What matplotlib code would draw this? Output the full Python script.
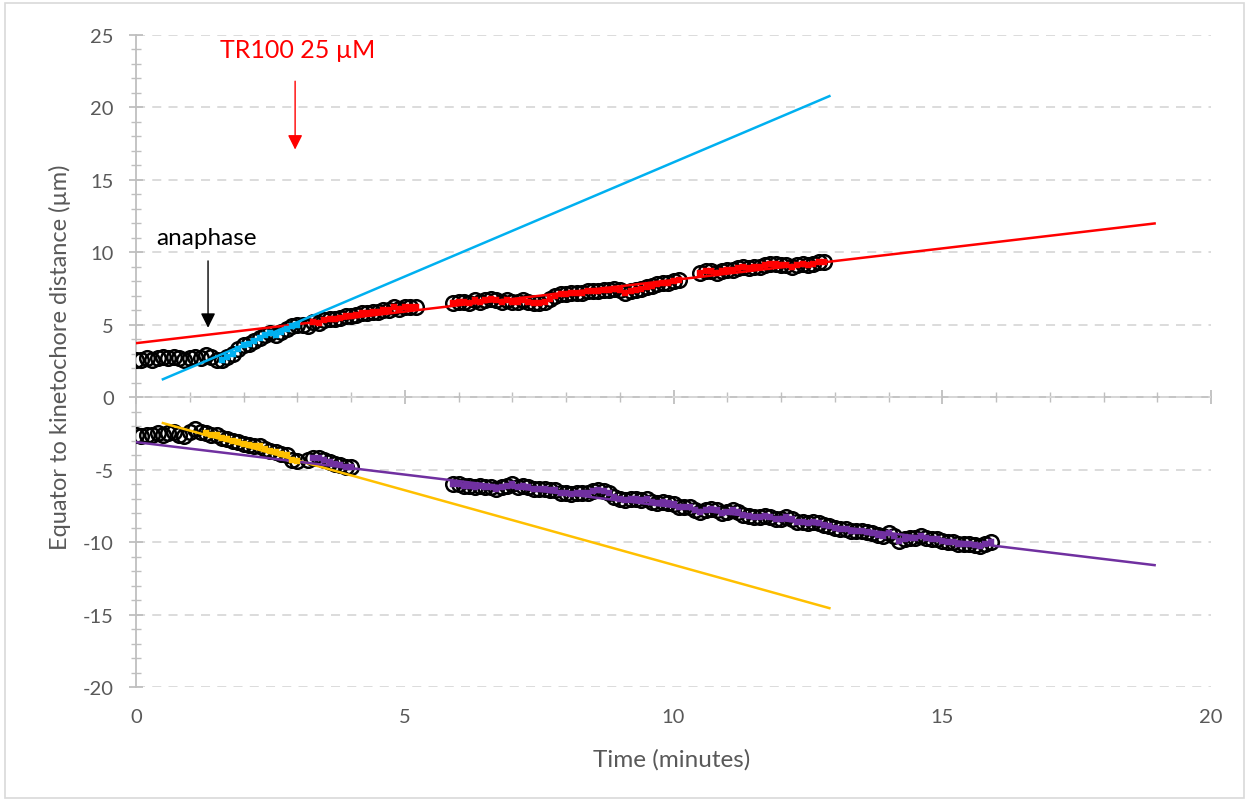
import numpy as np
import matplotlib.pyplot as plt
from matplotlib.ticker import MultipleLocator
from matplotlib.patches import Rectangle

plt.rcParams['font.family'] = ['Lato', 'DejaVu Sans']
plt.rcParams['axes.unicode_minus'] = False

# upper kinetochore (time in minutes, distance in um)
up_t = [0.0, 0.1, 0.2, 0.3, 0.4, 0.5, 0.6, 0.7, 0.8, 0.9, 1.0, 1.1, 1.2, 1.3, 1.4, 1.5, 1.6, 1.7, 1.8, 1.9,
        2.0, 2.1, 2.2, 2.3, 2.4, 2.5, 2.6, 2.7, 2.8, 2.9, 3.0, 3.1, 3.2, 3.3, 3.4, 3.5, 3.6, 3.7, 3.8, 3.9,
        4.0, 4.1, 4.2, 4.3, 4.4, 4.5, 4.6, 4.7, 4.8, 4.9, 5.0, 5.1, 5.2,
        5.9, 6.0, 6.1, 6.2, 6.3, 6.4, 6.5, 6.6, 6.7, 6.8, 6.9, 7.0, 7.1, 7.2, 7.3, 7.4, 7.5, 7.6, 7.7, 7.8,
        7.9, 8.0, 8.1, 8.2, 8.3, 8.4, 8.5, 8.6, 8.7, 8.8, 8.9, 9.0, 9.1, 9.2, 9.3, 9.4, 9.5, 9.6, 9.7, 9.8,
        9.9, 10.0, 10.1, 10.5, 10.6, 10.7, 10.8, 10.9, 11.0, 11.1, 11.2, 11.3, 11.4, 11.5, 11.6, 11.7, 11.8,
        11.9, 12.0, 12.1, 12.2, 12.3, 12.4, 12.5, 12.6, 12.7, 12.8]
up_y = [2.6, 2.6, 2.7, 2.6, 2.7, 2.8, 2.7, 2.8, 2.7, 2.6, 2.7, 2.8, 2.7, 2.9, 2.8, 2.6, 2.6, 2.8, 3.0, 3.3,
        3.6, 3.7, 3.9, 4.1, 4.3, 4.4, 4.3, 4.5, 4.7, 4.9, 5.0, 5.0, 4.9, 5.2, 5.1, 5.3, 5.4, 5.4, 5.5, 5.6,
        5.6, 5.7, 5.8, 5.8, 5.9, 5.9, 6.0, 6.0, 6.2, 6.1, 6.2, 6.2, 6.2,
        6.5, 6.6, 6.6, 6.5, 6.7, 6.6, 6.7, 6.8, 6.7, 6.6, 6.7, 6.6, 6.6, 6.7, 6.6, 6.5, 6.5, 6.6, 6.8, 7.0,
        7.1, 7.1, 7.2, 7.2, 7.2, 7.3, 7.3, 7.3, 7.4, 7.4, 7.5, 7.4, 7.2, 7.3, 7.4, 7.5, 7.6, 7.7, 7.8, 7.9,
        7.9, 8.0, 8.1, 8.6, 8.7, 8.7, 8.6, 8.7, 8.8, 8.8, 8.9, 9.0, 8.9, 9.0, 9.0, 9.1, 9.2,
        9.2, 9.1, 9.1, 9.0, 9.1, 9.2, 9.1, 9.2, 9.3, 9.3]

# lower kinetochore
lo_t = [0.0, 0.1, 0.2, 0.3, 0.4, 0.5, 0.6, 0.7, 0.8, 0.9, 1.0, 1.1, 1.2, 1.3, 1.4, 1.5, 1.6, 1.7, 1.8, 1.9,
        2.0, 2.1, 2.2, 2.3, 2.4, 2.5, 2.6, 2.7, 2.8, 2.9, 3.0, 3.2, 3.3, 3.4, 3.5, 3.6, 3.7, 3.8, 3.9, 4.0,
        5.9, 6.0, 6.1, 6.2, 6.3, 6.4, 6.5, 6.6, 6.7, 6.8, 6.9, 7.0, 7.1, 7.2, 7.3, 7.4, 7.5, 7.6, 7.7, 7.8,
        7.9, 8.0, 8.1, 8.2, 8.3, 8.4, 8.5, 8.6, 8.7, 8.8, 8.9, 9.0, 9.1, 9.2, 9.3, 9.4, 9.5, 9.6, 9.7, 9.8,
        9.9, 10.0, 10.1, 10.2, 10.3, 10.4, 10.5, 10.6, 10.7, 10.8, 10.9, 11.0, 11.1, 11.2, 11.3, 11.4, 11.5,
        11.6, 11.7, 11.8, 11.9, 12.0, 12.1, 12.2, 12.3, 12.4, 12.5, 12.6, 12.7, 12.8, 12.9, 13.0, 13.1, 13.2,
        13.3, 13.4, 13.5, 13.6, 13.7, 13.8, 13.9, 14.0, 14.1, 14.2, 14.3, 14.4, 14.5, 14.6, 14.7, 14.8, 14.9,
        15.0, 15.1, 15.2, 15.3, 15.4, 15.5, 15.6, 15.7, 15.8, 15.9]
lo_y = [-2.6, -2.7, -2.6, -2.6, -2.5, -2.6, -2.5, -2.4, -2.6, -2.7, -2.4, -2.2, -2.4, -2.5, -2.6, -2.6, -2.8,
        -2.9, -3.0, -3.1, -3.2, -3.3, -3.4, -3.4, -3.6, -3.7, -3.8, -3.9, -4.0, -4.3, -4.4, -4.3, -4.2, -4.2,
        -4.3, -4.5, -4.6, -4.7, -4.8, -4.8,
        -6.0, -6.0, -6.1, -6.1, -6.2, -6.1, -6.2, -6.2, -6.3, -6.2, -6.1, -6.0, -6.2, -6.1, -6.2, -6.3, -6.3,
        -6.3, -6.4, -6.4, -6.6, -6.6, -6.7, -6.6, -6.6, -6.6, -6.5, -6.4, -6.5, -6.6, -6.9, -7.0, -7.1, -7.0,
        -7.0, -7.1, -7.0, -7.2, -7.3, -7.2, -7.3, -7.4, -7.6, -7.6, -7.6, -7.8, -7.9, -7.8, -7.7, -7.8, -8.0,
        -7.9, -7.8, -7.9, -8.1, -8.2, -8.3, -8.3, -8.2, -8.3, -8.4, -8.4, -8.3, -8.4, -8.6, -8.6, -8.7, -8.6,
        -8.7, -8.8, -8.9, -9.0, -9.1, -9.1, -9.2, -9.2, -9.2, -9.3, -9.4, -9.5, -9.6, -9.4, -9.6, -9.9, -9.8,
        -9.7, -9.7, -9.6, -9.7, -9.8, -9.8, -9.9, -10.0, -10.0, -10.1, -10.1, -10.1, -10.2, -10.3, -10.1, -10.0]

# time windows of the points used for each fit
cyan_win = (1.6, 3.0)
red_win = (3.3, 13.0)
yellow_win = (1.3, 3.0)
purple_win = (3.3, 16.0)

# linear trend lines: slope, intercept, x start, x end
fits = {
    '#00b0f0': (1.576, 0.45, 0.5, 12.9),
    '#ff0000': (0.436, 3.73, 0.0, 18.95),
    '#ffc000': (-1.03, -1.27, 0.5, 12.9),
    '#7030a0': (-0.448, -3.1, 0.0, 18.95),
}

up_t, up_y = np.array(up_t), np.array(up_y)
lo_t, lo_y = np.array(lo_t), np.array(lo_y)

fig = plt.figure(figsize=(12.49, 8.03), dpi=100)
ax = fig.add_axes([0.1089, 0.1432, 0.8607, 0.812])

grey = '#595959'
axis_grey = '#bfbfbf'

ax.set_xlim(0, 20)
ax.set_ylim(-20, 25)
ax.yaxis.set_major_locator(MultipleLocator(5))
ax.yaxis.set_minor_locator(MultipleLocator(1))
ax.xaxis.set_major_locator(MultipleLocator(5))
ax.grid(axis='y', color='#d9d9d9', linestyle=(0, (5, 4)), linewidth=1.3)
ax.set_axisbelow(True)

for s in ['top', 'right', 'bottom']:
    ax.spines[s].set_visible(False)
ax.spines['left'].set_color(axis_grey)
ax.spines['left'].set_linewidth(1.3)
ax.tick_params(axis='y', which='major', direction='inout', length=10, width=1.3, color=axis_grey,
               labelcolor=grey, labelsize=14.5, pad=11)
ax.tick_params(axis='y', which='minor', direction='inout', length=7, width=1.0, color=axis_grey)
ax.tick_params(axis='x', which='major', length=0, labelcolor=grey, labelsize=14.5, pad=15)

# horizontal axis line crossing at y = 0
sec = ax.secondary_xaxis(20 / 45)
sec.spines['bottom'].set_color(axis_grey)
sec.spines['bottom'].set_linewidth(1.3)
sec.xaxis.set_major_locator(MultipleLocator(5))
sec.xaxis.set_minor_locator(MultipleLocator(1))
sec.tick_params(which='major', direction='inout', length=10, width=1.3, color=axis_grey, labelbottom=False)
sec.tick_params(which='minor', direction='inout', length=7, width=1.0, color=axis_grey)

# raw points
ax.plot(up_t, up_y, 'o', mfc='none', mec='black', ms=10.5, mew=1.8, zorder=3)
ax.plot(lo_t, lo_y, 'o', mfc='none', mec='black', ms=10.5, mew=1.8, zorder=3)

# fitted subsets
def sub(t, y, win):
    m = (t >= win[0]) & (t <= win[1])
    return t[m], y[m]

for (t, y, win, c) in [(up_t, up_y, cyan_win, '#00b0f0'), (up_t, up_y, red_win, '#ff0000'),
                       (lo_t, lo_y, yellow_win, '#ffc000'), (lo_t, lo_y, purple_win, '#7030a0')]:
    ts, ys = sub(t, y, win)
    ax.plot(ts, ys, 's', color=c, ms=5, mec=c, mew=0.3, zorder=5)

# trend lines
for c, (k, b, x0, x1) in fits.items():
    xs = np.array([x0, x1])
    ax.plot(xs, k * xs + b, color=c, lw=1.8, zorder=4)

# annotations
ax.annotate('', xy=(1.34, 4.6), xytext=(1.34, 9.6),
            arrowprops=dict(arrowstyle='-|>', color='black', lw=1.0, mutation_scale=22))
ax.text(1.32, 11.0, 'anaphase', ha='center', va='center', fontsize=17.5, color='black')
ax.annotate('', xy=(2.96, 16.9), xytext=(2.96, 22.0),
            arrowprops=dict(arrowstyle='-|>', color='red', lw=1.0, mutation_scale=22))
ax.text(3.0, 24.0, 'TR100 25 µM', ha='center', va='center', fontsize=18, color='red')

# axis titles placed in figure coordinates
fig.text(0.538, 0.054, 'Time (minutes)', ha='center', va='center', fontsize=17.5, color=grey)
fig.text(0.048, 0.555, 'Equator to kinetochore distance (µm)', ha='center', va='center',
         rotation=90, fontsize=17, color=grey)

fig.patches.append(Rectangle((0.004, 0.005), 0.992, 0.99, transform=fig.transFigure,
                             fill=False, edgecolor='#d9d9d9', lw=1.2))

fig.savefig('out.png', dpi=100)
